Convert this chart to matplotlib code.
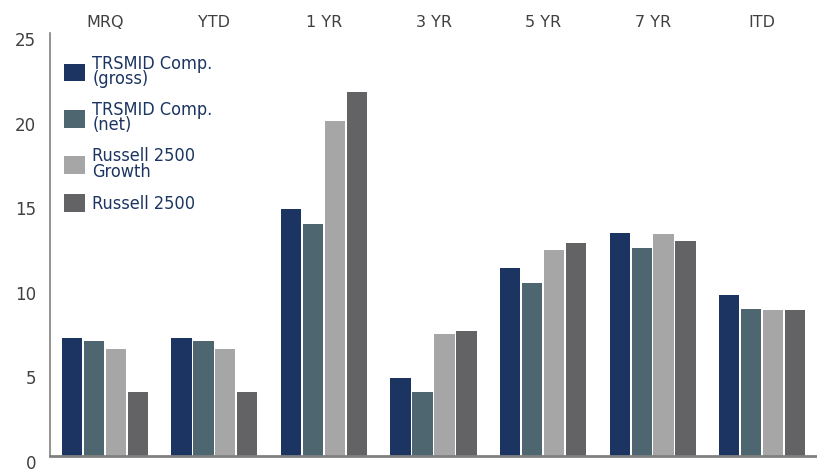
import matplotlib
matplotlib.use("Agg")
import matplotlib.pyplot as plt
import matplotlib.transforms as mtransforms
import numpy as np

categories = ["MRQ", "YTD", "1 YR", "3 YR", "5 YR", "7 YR", "ITD"]
series_names = ["TRSMID Comp.\n(gross)", "TRSMID Comp.\n(net)", "Russell 2500\nGrowth", "Russell 2500"]
gross = [7.0, 7.0, 14.6, 4.6, 11.1, 13.2, 9.5]
net = [6.8, 6.8, 13.7, 3.8, 10.2, 12.3, 8.7]
r2500_growth = [6.3, 6.3, 19.8, 7.2, 12.2, 13.1, 8.6]
r2500 = [3.8, 3.8, 21.5, 7.4, 12.6, 12.7, 8.6]
colors = ["#1b3461", "#4d6670", "#a6a6a6", "#636365"]
y_ticks = [0, 5, 10, 15, 20, 25]

fig = plt.figure(figsize=(8.17, 4.72), dpi=100)
ax = fig.add_axes([50 / 817, 16 / 472, 1 - 50 / 817, (456 - 33) / 472])

x = np.arange(len(categories))
step = 0.2
for i, (vals, name) in enumerate(zip([gross, net, r2500_growth, r2500], series_names)):
    ax.bar(x + (i - 1.5) * step, vals, width=0.185, color=colors[i], label=name,
           edgecolor="none", zorder=2)

ax.set_xlim(-0.5, len(categories) - 0.5)
ax.set_ylim(0, 25)

# category labels sit above the plot
ax.xaxis.tick_top()
ax.set_xticks(x)
ax.set_xticklabels(categories, fontsize=11.5, color="#404040")
ax.tick_params(axis="x", length=0, pad=2)

ax.set_yticks(y_ticks)
ax.set_yticklabels([str(t) for t in y_ticks], fontsize=12, color="#404040")
ax.tick_params(axis="y", length=0, pad=10)
shift = mtransforms.ScaledTranslation(0, -6 / 100, fig.dpi_scale_trans)
for lbl in ax.get_yticklabels():
    lbl.set_transform(lbl.get_transform() + shift)

for side in ["top", "right"]:
    ax.spines[side].set_visible(False)
ax.spines["left"].set_color("#808080")
ax.spines["left"].set_linewidth(1.2)
ax.spines["bottom"].set_color("#808080")
ax.spines["bottom"].set_linewidth(2)

leg = ax.legend(loc="upper left", bbox_to_anchor=(7 / 767, 0.965), frameon=False,
                prop={"family": "DejaVu Sans", "stretch": "condensed", "size": 13},
                handlelength=1.15, handleheight=1.15, handletextpad=0.4,
                labelspacing=0.72, borderaxespad=0)
for t in leg.get_texts():
    t.set_color("#1b3461")
    t.set_linespacing(0.8)

fig.savefig("out.png", dpi=100)
